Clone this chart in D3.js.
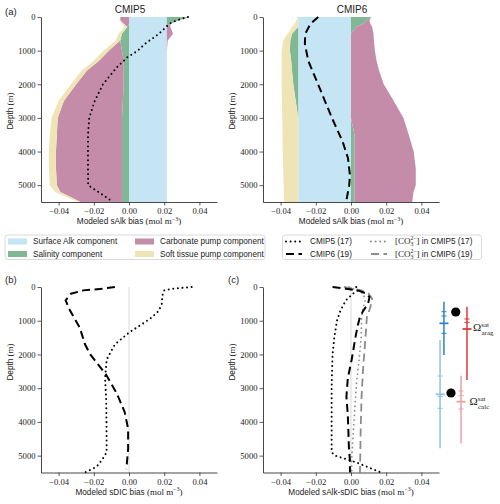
<!DOCTYPE html>
<html><head><meta charset="utf-8">
<script src="https://cdn.jsdelivr.net/npm/d3@7"></script>
<style>body{margin:0;background:#fff;} svg{display:block;}</style>
</head><body>
<svg id="chart" width="500" height="504"></svg>
<script>
// ---------------- DATA ----------------
const depths = [0,100,200,300,500,700,1000,1300,1600,2000,2500,3000,3500,4000,4500,5000,5200,5500];
const surface5   = [0.0215,0.0215,0.0215,0.0215,0.0215,0.0215,0.0215,0.0215,0.0215,0.0215,0.0215,0.0215,0.0215,0.0215,0.0215,0.0215,0.0215,0.0215];
const salinity5  = [0.013,0.007,0.002,-0.001,-0.004,-0.005,-0.004,-0.003,-0.003,-0.003,-0.0035,-0.004,-0.004,-0.004,-0.004,-0.004,-0.004,-0.004];
const carbonate5 = [-0.005,-0.005,-0.003,0.002,0.0035,0.0005,-0.0075,-0.014,-0.021,-0.027,-0.0335,-0.0365,-0.037,-0.0375,-0.0375,-0.037,-0.035,-0.0235];
const softTissue5= [0,-0.0005,-0.001,-0.0015,-0.002,-0.0025,-0.003,-0.003,-0.003,-0.003,-0.003,-0.0035,-0.004,-0.004,-0.004,-0.004,-0.003,-0.0015];
const surface6   = [-0.030,-0.030,-0.030,-0.030,-0.030,-0.030,-0.030,-0.030,-0.030,-0.030,-0.030,-0.030,-0.030,-0.030,-0.030,-0.030,-0.030,-0.030];
const salinity6  = [0.0115,0.009,0.007,0.003,-0.0035,-0.0045,-0.0047,-0.004,-0.0035,-0.0028,-0.0014,0.0,0.002,0.002,0.002,0.002,0.002,0.002];
const carbonate6 = [0.0,0.0015,0.004,0.009,0.0128,0.013,0.0136,0.0145,0.016,0.0186,0.0243,0.0298,0.0308,0.0336,0.0348,0.0348,0.0335,0.0328];
const softTissue6= [-0.0005,-0.001,-0.002,-0.0035,-0.0025,-0.004,-0.0047,-0.0054,-0.0059,-0.0066,-0.0079,-0.009,-0.009,-0.0088,-0.0085,-0.0083,-0.0082,-0.008];

const sAlk5Depth = [0,100,200,300,500,800,1000,1200,1500,2000,2500,3000,3500,4000,4500,5000,5250,5500];
const sAlk5      = [0.0335,0.027,0.023,0.021,0.017,0.009,0.005,-0.001,-0.007,-0.0148,-0.0195,-0.0226,-0.0233,-0.0233,-0.0233,-0.0232,-0.016,-0.009];
const sAlk6Depth = [0,200,500,800,1300,1900,2500,3100,3700,4200,4700,5000,5500];
const sAlk6      = [-0.0186,-0.023,-0.026,-0.0262,-0.0243,-0.0195,-0.0148,-0.010,-0.0048,-0.0017,-0.0006,-0.001,-0.0028];

const sDIC5Depth = [0,50,100,250,500,700,900,1100,1330,1700,2150,2700,3300,4000,4900,5100,5330,5500];
const sDIC5      = [0.0356,0.025,0.020,0.019,0.0186,0.017,0.013,0.0075,0.0005,-0.008,-0.0127,-0.0136,-0.013,-0.0128,-0.0127,-0.015,-0.0184,-0.025];
const sDIC6Depth = [0,50,100,200,400,700,1200,1700,2000,2600,3150,3700,4200,4800,5400];
const sDIC6      = [-0.008,-0.015,-0.026,-0.033,-0.036,-0.0335,-0.028,-0.025,-0.022,-0.013,-0.007,-0.0025,-0.0005,-0.0005,-0.0015];

const diff5Depth = [0,100,200,400,700,1000,1500,2000,3000,4000,4900,5000,5100,5200,5350,5500];
const diff5      = [0.003,0.004,0.001,-0.003,-0.006,-0.008,-0.0095,-0.0105,-0.011,-0.011,-0.011,-0.009,-0.003,0.003,0.010,0.017];
const diff6Depth = [0,50,100,200,300,500,700,900,1150,1500,2150,2700,3250,3800,4250,4750,5150,5500];
const diff6      = [-0.0105,-0.003,0.004,0.009,0.0105,0.0097,0.007,0.005,0.0038,0.0025,0.0004,-0.0018,-0.0026,-0.0018,-0.0015,-0.0012,-0.0006,-0.0006];
const co3_5Depth = [0,100,200,400,600,900,1500,2200,2800,3500,4300,5000,5500];
const co3_5      = [-0.001,0.004,0.007,0.008,0.007,0.006,0.0058,0.0045,0.0032,0.0023,0.0013,0.0005,0.0004];
const co3_6Depth = [0,100,200,350,600,900,1300,2000,2300,3250,4250,5500];
const co3_6      = [-0.004,0.006,0.010,0.012,0.011,0.009,0.0085,0.0075,0.007,0.006,0.0055,0.0051];

// saturation horizon depths (m): [range top, range bottom], ticks, mean
const aragCMIP5Range = [436, 2016], aragCMIP5Ticks = [732, 860, 1373], aragCMIP5Mean = 1077;
const aragCMIP6Range = [584, 2757], aragCMIP6Ticks = [949, 1047], aragCMIP6Mean = 1245;
const calcCMIP5Range = [1571, 4782], calcCMIP5Ticks = [2639, 3250, 3597], calcCMIP5Mean = 3182;
const calcCMIP6Range = [2630, 4634], calcCMIP6Ticks = [3083, 3222, 3617], calcCMIP6Mean = 3400;
const aragObs = 741, calcObs = 3143;

const yTicks = [0,1000,2000,3000,4000,5000];
const xTicks = [-0.04,-0.02,0,0.02,0.04];
const componentNames = ["Surface Alk component","Salinity component","Carbonate pump component","Soft tissue pump component"];

// ---------------- STYLE ----------------
const colSurface = "#c5e5f5", colSal = "#80b896", colCarb = "#c48ca8", colSoft = "#efe4b6";
const compColors = [colSurface, colSal, colCarb, colSoft];
const serif = "'Liberation Serif', 'DejaVu Serif', serif";
const sans = "'Liberation Sans', Arial, sans-serif";
const blueDark = "#2f82c0", blueLight = "#8fc0e6", redDark = "#dd3a3a", redLight = "#eda0a0";

const svg = d3.select("#chart");
const TOPY = [17, 202], BOTY = [287, 472.5];
const LX = [41, 217], RX = [263, 439];

function scales(xr, yr) {
  return {
    x: d3.scaleLinear().domain([-0.05, 0.05]).range(xr),
    y: d3.scaleLinear().domain([0, 5500]).range(yr)
  };
}

function drawAxes(s, xlabelMain, ylabelY) {
  const g = svg.append("g");
  const ya = g.append("g").attr("transform", `translate(${s.x.range()[0]},0)`)
    .call(d3.axisLeft(s.y).tickValues(yTicks).tickSize(3.5).tickSizeOuter(0).tickPadding(2).tickFormat(d3.format("d")));
  const xa = g.append("g").attr("transform", `translate(0,${s.y.range()[1]})`)
    .call(d3.axisBottom(s.x).tickValues(xTicks).tickSize(3.5).tickSizeOuter(0).tickPadding(2.5)
      .tickFormat(d => d3.format(".2f")(d)));
  [ya, xa].forEach(a => {
    a.select(".domain").attr("stroke", "#333").attr("stroke-width", 0.9);
    a.selectAll(".tick line").attr("stroke", "#333").attr("stroke-width", 0.8);
    a.selectAll(".tick text").attr("font-family", serif).attr("font-size", 8.6).attr("fill", "#222");
  });
  // y label
  const yl = svg.append("text")
    .attr("transform", `translate(${s.x.range()[0] - 28},${ylabelY}) rotate(-90)`)
    .attr("text-anchor", "middle").attr("font-size", 8.2).attr("fill", "#222");
  yl.append("tspan").attr("font-family", sans).text("Depth ");
  yl.append("tspan").attr("font-family", serif).attr("font-size", 9).text("(m)");
  // x label
  const xl = svg.append("text")
    .attr("x", (s.x.range()[0] + s.x.range()[1]) / 2).attr("y", s.y.range()[1] + 22)
    .attr("text-anchor", "middle").attr("font-size", 8.2).attr("fill", "#222");
  xl.append("tspan").attr("font-family", sans).text(xlabelMain + " ");
  xl.append("tspan").attr("font-family", serif).attr("font-size", 9).text("(mol m");
  xl.append("tspan").attr("font-family", serif).attr("font-size", 6).attr("dy", -3.5).text("−3");
  xl.append("tspan").attr("font-family", serif).attr("font-size", 9).attr("dy", 3.5).text(")");
}

function drawStack(s, comps) {
  const n = depths.length;
  const pos = new Array(n).fill(0), neg = new Array(n).fill(0);
  comps.forEach((vals, ci) => {
    const posPart = depths.map((d, i) => ({ d, x0: pos[i], x1: pos[i] + Math.max(vals[i], 0) }));
    const negPart = depths.map((d, i) => ({ d, x0: neg[i], x1: neg[i] + Math.min(vals[i], 0) }));
    depths.forEach((d, i) => { pos[i] += Math.max(vals[i], 0); neg[i] += Math.min(vals[i], 0); });
    const area = d3.area().y(p => s.y(p.d)).x0(p => s.x(p.x0)).x1(p => s.x(p.x1));
    [posPart, negPart].forEach(part => {
      svg.append("path").datum(part).attr("d", area).attr("fill", compColors[ci]).attr("stroke", "none");
    });
  });
}

function drawLine(s, ds, vs, opts) {
  const line = d3.line().x(p => s.x(p[1])).y(p => s.y(p[0]));
  const data = ds.map((d, i) => [d, vs[i]]);
  const p = svg.append("path").datum(data).attr("d", line).attr("fill", "none")
    .attr("stroke", opts.color).attr("stroke-width", opts.width);
  if (opts.style === "dot") p.attr("stroke-dasharray", "0.01 4.6").attr("stroke-linecap", "round");
  if (opts.style === "dash") p.attr("stroke-dasharray", "8 4.5");
  return p;
}

function zeroLine(s) {
  svg.append("line").attr("x1", s.x(0)).attr("x2", s.x(0)).attr("y1", s.y(0)).attr("y2", s.y(5500))
    .attr("stroke", "#d9d9d9").attr("stroke-width", 1);
}

// ---------------- PANEL (a) CMIP5 ----------------
const sa5 = scales(LX, TOPY);
drawStack(sa5, [surface5, salinity5, carbonate5, softTissue5]);
drawLine(sa5, sAlk5Depth, sAlk5, { color: "#000", width: 2, style: "dot" });
drawAxes(sa5, "Modeled sAlk bias", 111);
svg.append("text").attr("x", 130).attr("y", 13).attr("text-anchor", "middle").attr("font-family", sans).attr("font-size", 10).attr("fill", "#222").text("CMIP5");

// ---------------- PANEL (a) CMIP6 ----------------
const sa6 = scales(RX, TOPY);
drawStack(sa6, [surface6, salinity6, carbonate6, softTissue6]);
drawLine(sa6, sAlk6Depth, sAlk6, { color: "#000", width: 2, style: "dash" });
drawAxes(sa6, "Modeled sAlk bias", 111);
svg.append("text").attr("x", 352).attr("y", 13).attr("text-anchor", "middle").attr("font-family", sans).attr("font-size", 10).attr("fill", "#222").text("CMIP6");

// ---------------- PANEL (b) ----------------
const sb = scales(LX, BOTY);
zeroLine(sb);
drawLine(sb, sDIC5Depth, sDIC5, { color: "#000", width: 2, style: "dot" });
drawLine(sb, sDIC6Depth, sDIC6, { color: "#000", width: 2, style: "dash" });
drawAxes(sb, "Modeled sDIC bias", 362);

// ---------------- PANEL (c) ----------------
const sc = scales(RX, BOTY);
zeroLine(sc);
drawLine(sc, co3_5Depth, co3_5, { color: "#8c8c8c", width: 1.8, style: "dot" });
drawLine(sc, co3_6Depth, co3_6, { color: "#8c8c8c", width: 1.8, style: "dash" });
drawLine(sc, diff5Depth, diff5, { color: "#000", width: 2, style: "dot" });
drawLine(sc, diff6Depth, diff6, { color: "#000", width: 2, style: "dash" });
drawAxes(sc, "Modeled sAlk-sDIC bias", 362);

// saturation horizons (drawn beside panel c, x in data units off-axis)
function errBar(xv, range, ticks, mean, color) {
  const X = sc.x(xv);
  svg.append("line").attr("x1", X).attr("x2", X).attr("y1", sc.y(range[0])).attr("y2", sc.y(range[1]))
    .attr("stroke", color).attr("stroke-width", 1.5);
  ticks.forEach(t => svg.append("line").attr("x1", X - 2.6).attr("x2", X + 2.6).attr("y1", sc.y(t)).attr("y2", sc.y(t))
    .attr("stroke", color).attr("stroke-width", 1));
  svg.append("line").attr("x1", X - 4.5).attr("x2", X + 4.5).attr("y1", sc.y(mean)).attr("y2", sc.y(mean))
    .attr("stroke", color).attr("stroke-width", 1.8);
}
errBar(0.0528, aragCMIP5Range, aragCMIP5Ticks, aragCMIP5Mean, blueDark);
errBar(0.0659, aragCMIP6Range, aragCMIP6Ticks, aragCMIP6Mean, redDark);
errBar(0.0506, calcCMIP5Range, calcCMIP5Ticks, calcCMIP5Mean, blueLight);
errBar(0.0625, calcCMIP6Range, calcCMIP6Ticks, calcCMIP6Mean, redLight);
svg.append("circle").attr("cx", sc.x(0.0595)).attr("cy", sc.y(aragObs)).attr("r", 4.6).attr("fill", "#000");
svg.append("circle").attr("cx", sc.x(0.0568)).attr("cy", sc.y(calcObs)).attr("r", 4.6).attr("fill", "#000");

function omegaLabel(x, y, sub) {
  const t = svg.append("text").attr("x", x).attr("y", y).attr("font-family", serif).attr("fill", "#222");
  t.append("tspan").attr("font-size", 11).text("Ω");
  t.append("tspan").attr("font-size", 7).attr("dy", -4.5).text("sat");
  svg.append("text").attr("x", x + 8.5).attr("y", y + 3.5).attr("font-family", serif).attr("font-size", 7).attr("fill", "#222").text(sub);
}
omegaLabel(473, 331, "arag");
omegaLabel(469.5, 405, "calc");

// ---------------- LEGENDS ----------------
function box(x, y, w, h) {
  svg.append("rect").attr("x", x).attr("y", y).attr("width", w).attr("height", h).attr("rx", 2.5)
    .attr("fill", "#fff").attr("stroke", "#d0d0d0").attr("stroke-width", 0.8);
}
box(5, 235, 260, 24.5);
const legPos = [[8, 241.5], [8, 254], [135, 241.5], [135, 254]];
componentNames.forEach((name, i) => {
  const [lx, ly] = legPos[i];
  svg.append("rect").attr("x", lx).attr("y", ly - 3).attr("width", 19).attr("height", 6).attr("fill", compColors[i]);
  svg.append("text").attr("x", lx + 25).attr("y", ly + 2.8).attr("font-family", sans).attr("font-size", 8.2).attr("fill", "#222").text(name);
});

box(282.5, 235, 199, 24.5);
const lineLeg = [
  { x: 285, y: 241.5, color: "#000", style: "dot", label: "CMIP5 (17)", co3: false },
  { x: 285, y: 254, color: "#000", style: "dash", label: "CMIP6 (19)", co3: false },
  { x: 370, y: 241.5, color: "#8c8c8c", style: "dot", label: " in CMIP5 (17)", co3: true },
  { x: 370, y: 254, color: "#8c8c8c", style: "dash", label: " in CMIP6 (19)", co3: true }
];
lineLeg.forEach(L => {
  const p = svg.append("line").attr("x1", L.x + 1).attr("x2", L.x + 17).attr("y1", L.y).attr("y2", L.y)
    .attr("stroke", L.color).attr("stroke-width", 2);
  if (L.style === "dot") p.attr("stroke-dasharray", "0.01 4.6").attr("stroke-linecap", "round");
  else p.attr("stroke-dasharray", "8 4.5");
  const t = svg.append("text").attr("x", L.x + 25).attr("y", L.y + 2.8).attr("font-size", 8.2).attr("fill", "#222");
  if (L.co3) {
    t.append("tspan").attr("font-family", serif).attr("font-size", 9).text("[CO");
    t.append("tspan").attr("font-family", serif).attr("font-size", 5.8).attr("dy", 2).text("3");
    t.append("tspan").attr("font-family", serif).attr("font-size", 5.8).attr("dx", -3).attr("dy", -6).text("2−");
    t.append("tspan").attr("font-family", serif).attr("font-size", 9).attr("dy", 4).text("]");
    t.append("tspan").attr("font-family", sans).text(L.label);
  } else {
    t.append("tspan").attr("font-family", sans).text(L.label);
  }
});

// panel labels
[["(a)", 5, 15], ["(b)", 5, 283], ["(c)", 228, 283]].forEach(([s, x, y]) =>
  svg.append("text").attr("x", x).attr("y", y).attr("font-family", sans).attr("font-size", 9.5).attr("fill", "#222").text(s));
</script>
</body></html>
